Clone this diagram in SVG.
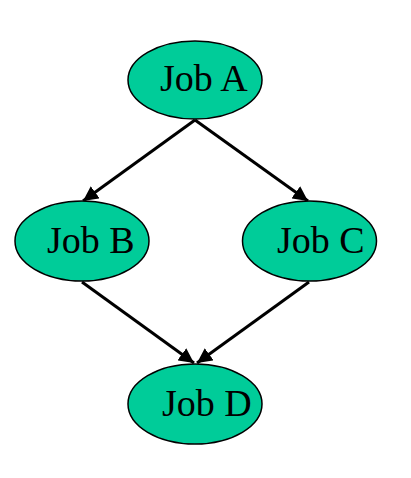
<svg xmlns="http://www.w3.org/2000/svg" width="411" height="478" viewBox="0 0 411 478">
<style>
.n ellipse{fill:#00cc99;stroke:#000;stroke-width:1.5}
.n text{font-family:"Liberation Serif","Times New Roman",serif;font-size:38px;fill:#000}
.e line{stroke:#000;stroke-width:3}
</style>
<defs>
<marker id="ah" viewBox="0 0 10 10" refX="10" refY="5" markerWidth="5" markerHeight="5" orient="auto" markerUnits="strokeWidth">
<path d="M0,0 L10,5 L0,10 z" fill="#000"/>
</marker>
</defs>
<rect width="411" height="478" fill="#fff"/>
<g id="edges" class="e">
<line x1="195" y1="120" x2="83" y2="201" marker-end="url(#ah)"/>
<line x1="195" y1="120" x2="308" y2="201" marker-end="url(#ah)"/>
<line x1="82" y1="282" x2="194" y2="363" marker-end="url(#ah)"/>
<line x1="309" y1="282" x2="197" y2="363" marker-end="url(#ah)"/>
</g>
<g id="jobA" class="n"><ellipse cx="195" cy="80" rx="67" ry="39"/><text x="160" y="91">Job A</text></g>
<g id="jobB" class="n"><ellipse cx="82" cy="241" rx="67" ry="40"/><text x="47" y="253">Job B</text></g>
<g id="jobC" class="n"><ellipse cx="309.5" cy="241" rx="67" ry="40"/><text x="277" y="253">Job C</text></g>
<g id="jobD" class="n"><ellipse cx="195" cy="404" rx="67" ry="40"/><text x="162" y="416">Job D</text></g>
</svg>
